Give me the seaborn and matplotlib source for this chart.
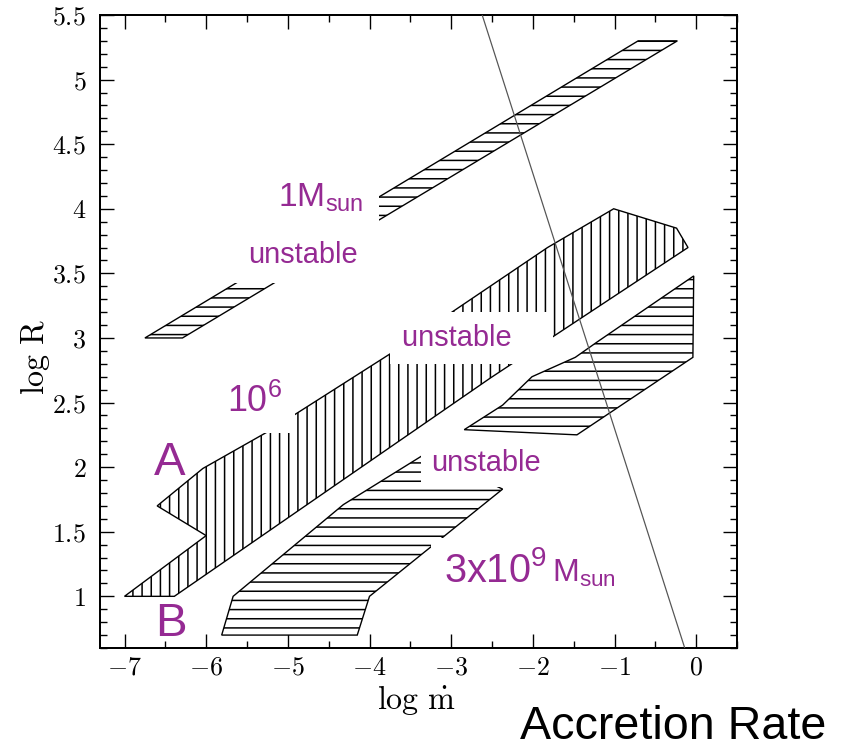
import matplotlib
matplotlib.use("Agg")
import matplotlib.pyplot as plt
from matplotlib.ticker import MultipleLocator
import seaborn as sns

# ---------------- data ----------------
# 1 M_sun band (horizontal hatch)
band1_x = [-6.75, -6.29, -0.23, -0.71]
band1_y = [3.00, 3.00, 5.30, 5.30]
# 10^6 M_sun band "A" (vertical hatch)
bandA_x = [-7.00, -6.39, -2.52, -0.10, -0.24, -1.01, -1.82, -3.74, -5.23, -6.04, -6.60, -6.00]
bandA_y = [1.00, 1.00, 2.69, 3.70, 3.85, 4.00, 3.70, 2.88, 2.28, 1.99, 1.70, 1.47]
# 3x10^9 M_sun band "B", lower piece (horizontal hatch)
bandB_x = [-5.81, -4.15, -4.00, -2.37, -3.30, -4.32, -5.67]
bandB_y = [0.70, 0.70, 1.00, 1.83, 2.11, 1.71, 1.00]
# 3x10^9 M_sun band, upper piece (horizontal hatch)
bandC_x = [-2.84, -1.46, -0.04, -0.03, -1.21, -1.48, -2.01, -2.37]
bandC_y = [2.29, 2.25, 2.85, 3.48, 2.97, 2.85, 2.70, 2.48]
# thin diagonal line
line_x = [-2.62, -0.14]
line_y = [5.50, 0.60]

x_ticks = [-7, -6, -5, -4, -3, -2, -1, 0]
x_tick_labels = ["$-7$", "$-6$", "$-5$", "$-4$", "$-3$", "$-2$", "$-1$", "$0$"]
y_ticks = [1, 1.5, 2, 2.5, 3, 3.5, 4, 4.5, 5, 5.5]
y_tick_labels = ["$1$", "$1.5$", "$2$", "$2.5$", "$3$", "$3.5$", "$4$", "$4.5$", "$5$", "$5.5$"]

label_texts = ["1M$_{\\mathrm{sun}}$", "unstable", "unstable\u2002\u2002", "unstable",
               "10$^{6}$", "A", "B", "3x10$^{9}$", "M$_{\\mathrm{sun}}$"]

# ---------------- layout / style ----------------
label_pos = [(-5.12, 4.02), (-5.49, 3.58), (-3.60, 2.94), (-3.25, 1.97),
             (-5.74, 2.43), (-6.64, 1.94), (-6.62, 0.69), (-3.09, 1.11), (-1.77, 1.11)]
label_size = [22, 19, 19, 19, 23.5, 31, 31, 26, 21]
label_pad = [0.45, 0.48, 0.41, 0.34, 0.36, None, None, 0.33, None]
purple = "#952A93"

sns.set_theme(style="ticks")
plt.rcParams.update({
    "font.family": ["Liberation Sans", "DejaVu Sans"],
    "mathtext.fontset": "custom",
    "mathtext.rm": "Liberation Sans",
    "mathtext.it": "Liberation Sans:italic",
    "mathtext.bf": "Liberation Sans:bold",
    "mathtext.sf": "Liberation Sans",
    "hatch.linewidth": 1.0,
    "hatch.color": "black",
})

DPI = 110
fig = plt.figure(figsize=(841 / DPI, 748 / DPI), dpi=DPI)
ax = fig.add_axes([100 / 841, 1 - 648 / 748, 637 / 841, 633 / 748])
ax.set_facecolor("white")

bands = [(band1_x, band1_y, "--"), (bandA_x, bandA_y, "||"),
         (bandB_x, bandB_y, "--"), (bandC_x, bandC_y, "--")]
for xs, ys, h in bands:
    ax.fill(xs, ys, facecolor="white", edgecolor="black", hatch=h,
            linewidth=0.9, zorder=2)

sns.lineplot(x=line_x, y=line_y, ax=ax, color="#555555", linewidth=0.8,
             sort=False, zorder=3)

for txt, (x, y), fs, pad in zip(label_texts, label_pos, label_size, label_pad):
    kw = {}
    if pad is not None:
        kw["bbox"] = dict(boxstyle=f"square,pad={pad}", fc="white", ec="none")
    ax.text(x, y, txt, color=purple, fontsize=fs, ha="left", va="baseline",
            zorder=5, **kw)

ax.set_xlim(-7.3, 0.5)
ax.set_ylim(0.6, 5.5)
ax.set_xticks(x_ticks, labels=x_tick_labels, math_fontfamily="cm", fontsize=17)
ax.set_yticks(y_ticks, labels=y_tick_labels, math_fontfamily="cm", fontsize=17)
ax.xaxis.set_minor_locator(MultipleLocator(0.5))
ax.yaxis.set_minor_locator(MultipleLocator(0.1))
ax.tick_params(which="both", direction="in", top=True, right=True,
               color="black", width=0.9, labelcolor="black")
ax.tick_params(which="major", length=9.2)
ax.tick_params(which="minor", length=4.8)
ax.tick_params(axis="y", pad=9)
ax.tick_params(axis="x", pad=5)
for s in ax.spines.values():
    s.set_linewidth(1.3)
    s.set_color("black")

ax.set_xlabel(r"$\mathrm{log}\ \dot{\mathrm{m}}$", math_fontfamily="cm",
              fontsize=21, color="black")
ax.set_ylabel(r"$\mathrm{log}\ \mathrm{R}$", math_fontfamily="cm",
              fontsize=21, color="black")
ax.xaxis.set_label_coords(0.497, -0.055)
ax.yaxis.set_label_coords(-0.075, 0.46)

fig.text(520 / 841, 9 / 748, "Accretion Rate", fontsize=30.5, color="black",
         ha="left", va="baseline")

fig.savefig("out.png", dpi=DPI, facecolor="white")
